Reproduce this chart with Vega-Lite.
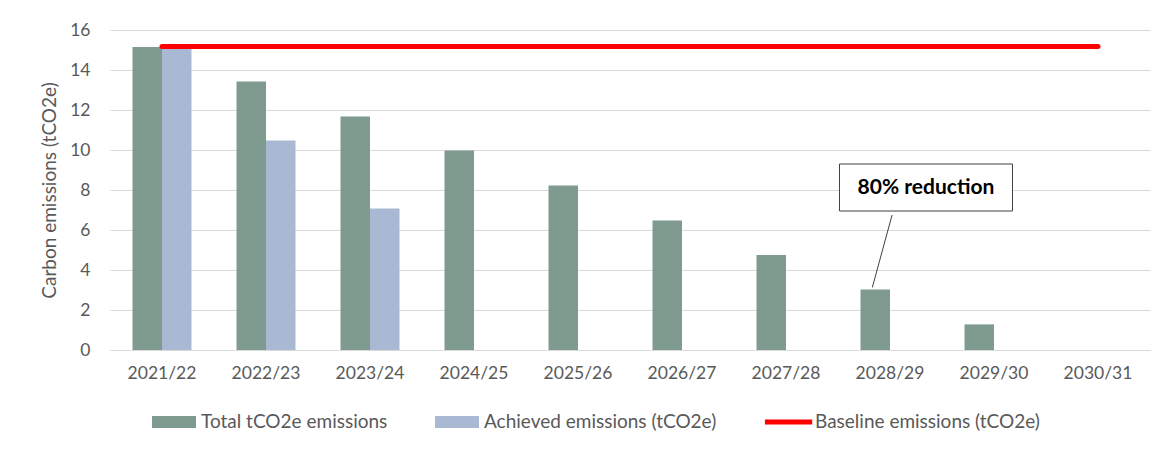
{
  "$schema": "https://vega.github.io/schema/vega-lite/v6.json",
  "width": 1040,
  "height": 320,
  "autosize": {"type": "none"},
  "padding": {"left": 110, "top": 30, "right": 19, "bottom": 103},
  "background": "white",
  "config": {
    "font": "Lato",
    "view": {"stroke": null},
    "axis": {"labelColor": "#595959", "titleColor": "#595959", "labelFont": "Lato", "titleFont": "Lato", "gridColor": "#d9d9d9", "domainColor": "#d9d9d9", "ticks": false, "tickSize": 0},
    "axisY": {"title": "Carbon emissions (tCO2e)", "titleFontSize": 19, "titleFontWeight": "normal", "titlePadding": 10, "labelFontSize": 17.5, "labelPadding": 20, "values": [0, 2, 4, 6, 8, 10, 12, 14, 16], "labelOverlap": false, "domain": false, "grid": true}
  },
  "datasets": {
    "bars": [
      {"year": "2021/22", "series": "Total tCO2e emissions", "value": 15.15},
      {"year": "2021/22", "series": "Achieved emissions (tCO2e)", "value": 15.1},
      {"year": "2022/23", "series": "Total tCO2e emissions", "value": 13.43},
      {"year": "2022/23", "series": "Achieved emissions (tCO2e)", "value": 10.48},
      {"year": "2023/24", "series": "Total tCO2e emissions", "value": 11.68},
      {"year": "2023/24", "series": "Achieved emissions (tCO2e)", "value": 7.08},
      {"year": "2024/25", "series": "Total tCO2e emissions", "value": 9.97},
      {"year": "2025/26", "series": "Total tCO2e emissions", "value": 8.23},
      {"year": "2026/27", "series": "Total tCO2e emissions", "value": 6.48},
      {"year": "2027/28", "series": "Total tCO2e emissions", "value": 4.75},
      {"year": "2028/29", "series": "Total tCO2e emissions", "value": 3.02},
      {"year": "2029/30", "series": "Total tCO2e emissions", "value": 1.28},
      {"year": "2030/31", "series": "Total tCO2e emissions", "value": 0}
    ],
    "baseline": [
      {"year": "2021/22", "series": "Baseline emissions (tCO2e)", "value": 15.18},
      {"year": "2022/23", "series": "Baseline emissions (tCO2e)", "value": 15.18},
      {"year": "2023/24", "series": "Baseline emissions (tCO2e)", "value": 15.18},
      {"year": "2024/25", "series": "Baseline emissions (tCO2e)", "value": 15.18},
      {"year": "2025/26", "series": "Baseline emissions (tCO2e)", "value": 15.18},
      {"year": "2026/27", "series": "Baseline emissions (tCO2e)", "value": 15.18},
      {"year": "2027/28", "series": "Baseline emissions (tCO2e)", "value": 15.18},
      {"year": "2028/29", "series": "Baseline emissions (tCO2e)", "value": 15.18},
      {"year": "2029/30", "series": "Baseline emissions (tCO2e)", "value": 15.18},
      {"year": "2030/31", "series": "Baseline emissions (tCO2e)", "value": 15.18}
    ],
    "note": [{"pos": 7.846, "y": 8.125, "label": "80% reduction"}],
    "leader": [{"x": 7.52, "y": 6.75, "x2": 7.33, "y2": 3.13}]
  },
  "layer": [
    {
      "layer": [
        {
          "data": {"name": "bars"},
          "mark": {"type": "bar"},
          "encoding": {
            "x": {"field": "year", "type": "nominal", "sort": null, "scale": {"type": "band", "paddingInner": 0.433, "paddingOuter": 0.2165},
              "axis": {"title": null, "labelAngle": 0, "labelFontSize": 17.5, "labelPadding": 14, "grid": false, "domain": true}},
            "xOffset": {"field": "series", "type": "nominal", "sort": ["Total tCO2e emissions", "Achieved emissions (tCO2e)"], "scale": {"paddingInner": 0, "paddingOuter": 0}},
            "y": {"field": "value", "type": "quantitative", "scale": {"domain": [0, 16], "nice": false}, "title": "Carbon emissions (tCO2e)"},
            "color": {"field": "series", "type": "nominal",
              "scale": {"domain": ["Total tCO2e emissions", "Achieved emissions (tCO2e)", "Baseline emissions (tCO2e)"], "range": ["#7f9b8f", "#a9b8d3", "#ff0000"]},
              "legend": {
                "title": null, "orient": "none", "legendX": 42, "legendY": 370, "direction": "horizontal",
                "labelFontSize": 19, "labelColor": "#595959", "labelFont": "Lato", "labelOffset": 5, "symbolOffset": 0, "columnPadding": 47, "labelLimit": 400,
                "symbolSize": 1936, "symbolType": "M-1,-0.27H1V0.27H-1Z", "symbolStrokeWidth": 0,
                "encode": {"symbols": {"update": {
                  "shape": {"signal": "datum.value === 'Baseline emissions (tCO2e)' ? 'M-1.05,-0.115H1.1V0.115H-1.05Z' : 'M-1,-0.27H1V0.27H-1Z'"},
                  "fill": {"signal": "datum.value === 'Baseline emissions (tCO2e)' ? '#ff0000' : (datum.value === 'Total tCO2e emissions' ? '#7f9b8f' : '#a9b8d3')"},
                  "stroke": {"value": "transparent"},
                  "strokeWidth": {"value": 0},
                  "opacity": {"value": 1},
                  "fillOpacity": {"value": 1}
                }}}
              }}
          }
        },
        {
          "data": {"name": "baseline"},
          "mark": {"type": "line", "strokeWidth": 5, "strokeCap": "round", "color": "#ff0000"},
          "encoding": {
            "x": {"field": "year", "type": "nominal", "sort": null},
            "y": {"field": "value", "type": "quantitative", "title": "Carbon emissions (tCO2e)"},
            "color": {"field": "series", "type": "nominal"}
          }
        }
      ]
    },
    {
      "layer": [
        {
          "data": {"name": "leader"},
          "mark": {"type": "rule", "color": "#404040", "strokeWidth": 1},
          "encoding": {
            "x": {"field": "x", "type": "quantitative", "scale": {"domain": [0, 10], "nice": false, "zero": false}, "axis": null},
            "x2": {"field": "x2"},
            "y": {"field": "y", "type": "quantitative", "title": "Carbon emissions (tCO2e)"},
            "y2": {"field": "y2"}
          }
        },
        {
          "data": {"name": "note"},
          "mark": {"type": "point", "shape": "M-1,-0.2717H1V0.2717H-1Z", "size": 29929, "filled": true, "fill": "white", "stroke": "#404040", "strokeWidth": 1, "opacity": 1},
          "encoding": {
            "x": {"field": "pos", "type": "quantitative", "axis": null},
            "y": {"field": "y", "type": "quantitative", "title": "Carbon emissions (tCO2e)"}
          }
        },
        {
          "data": {"name": "note"},
          "mark": {"type": "text", "font": "Lato", "fontWeight": "bold", "fontSize": 21, "color": "#000000", "align": "center", "baseline": "middle"},
          "encoding": {
            "x": {"field": "pos", "type": "quantitative", "axis": null},
            "y": {"field": "y", "type": "quantitative", "title": "Carbon emissions (tCO2e)"},
            "text": {"field": "label"}
          }
        }
      ]
    }
  ],
  "resolve": {"scale": {"x": "independent"}}
}
